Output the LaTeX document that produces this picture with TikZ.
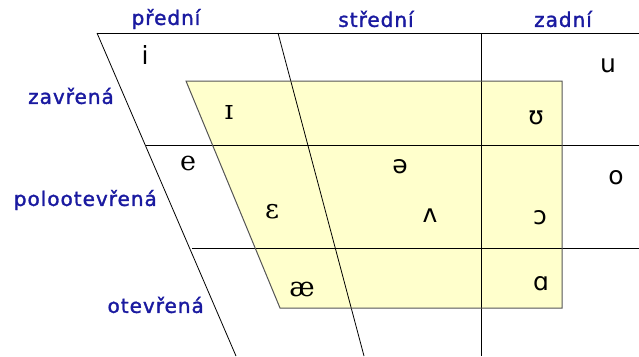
\documentclass[tikz,border=0pt]{standalone}
\usepackage{fontspec}
\setmainfont{DejaVu Sans}
\newfontfamily\labfont[LetterSpace=5,FakeBold=1.6]{DejaVu Sans}
\newfontfamily\ipasans{DejaVu Sans}
\newfontfamily\ipaserif{DejaVu Serif}
\definecolor{labblue}{HTML}{1A1AA0}
\definecolor{trapfill}{HTML}{FFFFCC}
\definecolor{trapline}{HTML}{555555}
\begin{document}
\begin{tikzpicture}[x=1pt,y=-1pt,
  grid/.style={draw=black,line width=0.8pt},
  lab/.style={text=labblue,font=\labfont\fontsize{20}{22}\selectfont,inner sep=0pt},
  vs/.style={font=\ipasans\fontsize{25}{27}\selectfont,inner sep=0pt},
  vr/.style={font=\ipaserif\fontsize{27}{29}\selectfont,inner sep=0pt}]
\useasboundingbox (0,0) rectangle (639,356);
% trapezoid area
\coordinate (t1) at (186,81);
\coordinate (t2) at (562,81);
\coordinate (t3) at (562,308);
\coordinate (t4) at (280,308);
\fill[trapfill] (t1) -- (t2) -- (t3) -- (t4) -- cycle;
% grid
\coordinate (a1) at (97,33);
\coordinate (a2) at (236,356);
\coordinate (b1) at (278,33);
\coordinate (b2) at (364,356);
\coordinate (c1) at (481,33);
\coordinate (c2) at (481,356);
\coordinate (r1) at (639,33);
\coordinate (h2a) at (146,145);
\coordinate (h2b) at (639,145);
\coordinate (h3a) at (192,248);
\coordinate (h3b) at (639,248);
\draw[grid] (a1) -- (a2);
\draw[grid] (b1) -- (b2);
\draw[grid] (c1) -- (c2);
\draw[grid] (a1) -- (r1);
\draw[grid] (h2a) -- (h2b);
\draw[grid] (h3a) -- (h3b);
\draw[draw=trapline,line width=1pt] (t1) -- (t2) -- (t3) -- (t4) -- cycle;
% labels
\node[lab] (lp) at (166,19) {přední};
\node[lab] (ls) at (376,19) {střední};
\node[lab] (lz) at (563,19) {zadní};
\node[lab,anchor=east] (lzv) at (114,96) {zavřená};
\node[lab,anchor=east] (lpo) at (157,200) {polootevřená};
\node[lab,anchor=east] (lot) at (204,305) {otevřená};
% vowels
\node[vs] (vi) at (145,55) {i};
\node[vs] (vu) at (608,66) {u};
\node[vr] (vI) at (229,112) {ɪ};
\node[vs] (vU) at (536,118) {ʊ};
\node[vr] (ve) at (188,163) {e};
\node[vs] (vschwa) at (400,167) {ə};
\node[vs] (vo) at (616,178) {o};
\node[vr] (veps) at (272,212) {ɛ};
\node[vs] (vturnv) at (430,216) {ʌ};
\node[vs] (vopeno) at (540,218) {ɔ};
\node[vr] (vae) at (302,289) {æ};
\node[vs] (valpha) at (541,284) {ɑ};
\end{tikzpicture}
\end{document}
